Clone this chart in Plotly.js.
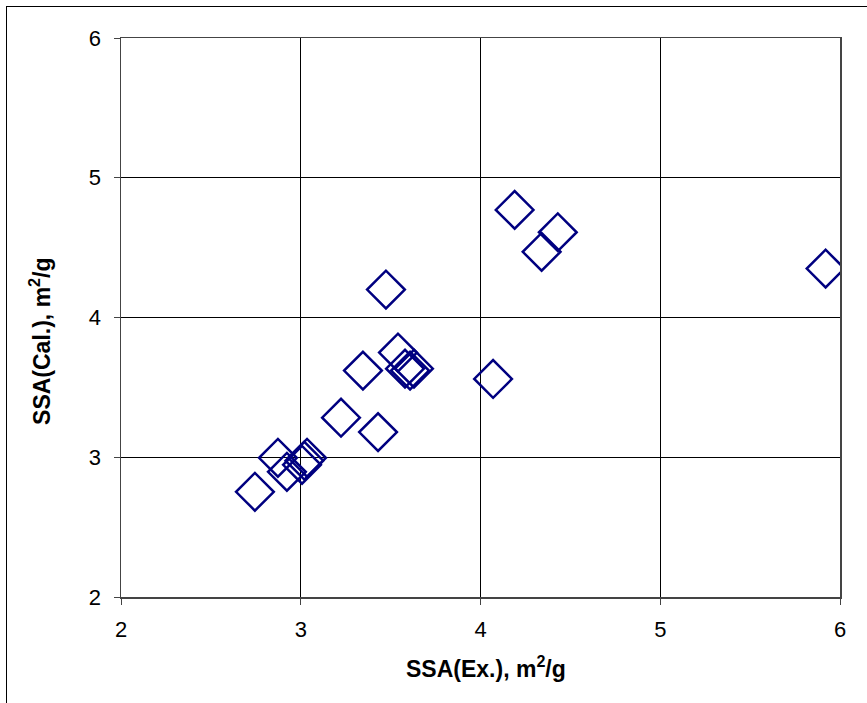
<!DOCTYPE html>
<html>
<head>
<meta charset="utf-8">
<script src="https://cdn.plot.ly/plotly-3.0.1.min.js"></script>
<style>
html,body{margin:0;padding:0;background:#fff;}
#frame{position:absolute;left:6px;top:6px;width:900px;height:760px;border-left:1.5px solid #000;border-top:1.5px solid #000;pointer-events:none;}
#chart{width:867px;height:703px;}
</style>
</head>
<body>
<div id="chart"></div>
<div id="frame"></div>
<script>
const ssaEx  = [2.745, 2.873, 2.923, 3.035, 3.007, 3.020, 3.224, 3.430, 3.346, 3.474, 3.541, 3.580, 3.608, 3.630, 4.070, 4.190, 4.340, 4.430, 5.920];
const ssaCal = [2.753, 2.996, 2.896, 2.996, 2.946, 2.975, 3.283, 3.180, 3.620, 4.200, 3.749, 3.634, 3.620, 3.634, 3.560, 4.770, 4.470, 4.610, 4.350];
const xTicks = [2, 3, 4, 5, 6];
const yTicks = [2, 3, 4, 5, 6];
const xTitle = '<b>SSA(Ex.), m<sup>2</sup>/g</b>';
const yTitle = '<b>SSA(Cal.), m<sup>2</sup>/g</b>';

const trace = {
  x: ssaEx, y: ssaCal, type: 'scatter', mode: 'markers',
  marker: {symbol: 'diamond-open', size: 29, color: '#000080', line: {color: '#000080', width: 2.5}},
  hoverinfo: 'x+y'
};
const fam = 'Liberation Sans, Arial, sans-serif';
const tickFont = {family: fam, size: 22, color: '#000'};
const titleFont = {family: fam, size: 23, color: '#000'};
const layout = {
  width: 867, height: 703,
  margin: {l: 121, r: 27, t: 38, b: 106},
  paper_bgcolor: '#fff', plot_bgcolor: '#fff',
  showlegend: false,
  xaxis: {
    range: [2, 6], tickvals: xTicks, ticktext: xTicks.map(String),
    showgrid: true, gridcolor: '#000', gridwidth: 1,
    showline: true, linecolor: '#444', linewidth: 1.5, mirror: true,
    ticks: 'outside', ticklen: 6, tickcolor: '#444', zeroline: false,
    tickfont: tickFont, ticklabelstandoff: 6
  },
  yaxis: {
    range: [2, 6], tickvals: yTicks, ticktext: yTicks.map(String),
    showgrid: true, gridcolor: '#000', gridwidth: 1,
    showline: true, linecolor: '#444', linewidth: 1.5, mirror: true,
    ticks: 'outside', ticklen: 6, tickcolor: '#444', zeroline: false,
    tickfont: tickFont, ticklabelstandoff: 8
  },
  annotations: [
    {text: xTitle, xref: 'paper', yref: 'paper', x: 0.5083, y: -0.125, xanchor: 'center', yanchor: 'middle', showarrow: false, font: titleFont},
    {text: yTitle, xref: 'paper', yref: 'paper', x: -0.1127, y: 0.458, xanchor: 'center', yanchor: 'middle', textangle: -90, showarrow: false, font: titleFont}
  ]
};
Plotly.newPlot('chart', [trace], layout, {displayModeBar: false, staticPlot: true});
</script>
</body>
</html>
